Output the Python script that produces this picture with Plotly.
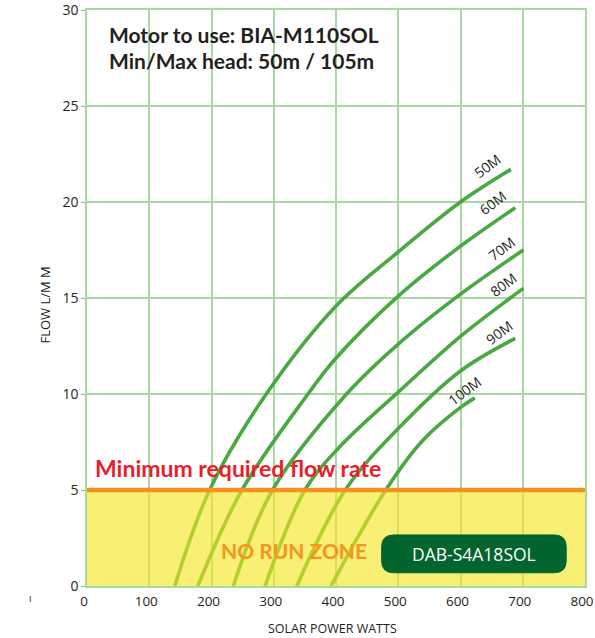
import plotly.graph_objects as go

# ---- data ----
heads = ["50M", "60M", "70M", "80M", "90M", "100M"]

watts_50 = [141, 197, 288, 399, 500, 600, 681]
flow_50 = [0, 5, 10, 14.55, 17.4, 20, 21.7]

watts_60 = [178, 249, 355, 398, 500, 600, 688]
flow_60 = [0, 5, 10, 11.8, 15.1, 17.7, 19.7]

watts_70 = [235, 298, 417, 500, 600, 701]
flow_70 = [0, 5, 10, 12.6, 15.2, 17.5]

watts_80 = [286, 350, 406, 500, 600, 680, 701]
flow_80 = [0, 5, 7.25, 10.1, 13.0, 15.0, 15.5]

watts_90 = [337, 415, 500, 600, 688]
flow_90 = [0, 5, 8.2, 11.2, 12.9]

watts_100 = [392, 480, 540, 600, 623]
flow_100 = [0, 5, 7.6, 9.3, 9.8]

# label anchor points (data coords) for each head curve
label_x = [644, 652, 666, 669, 662, 607]
label_y = [21.9, 20.0, 17.6, 15.7, 13.2, 10.2]

min_flow = 5
x_ticks = [0, 100, 200, 300, 400, 500, 600, 700, 800]
y_ticks = [0, 5, 10, 15, 20, 25, 30]

curves = [
    (watts_50, flow_50), (watts_60, flow_60), (watts_70, flow_70),
    (watts_80, flow_80), (watts_90, flow_90), (watts_100, flow_100),
]

CURVE = "#4aa842"
GRID = "#a9d8a2"
TXT = "#231f20"

fig = go.Figure()
for name, (xs, ys) in zip(heads, curves):
    fig.add_trace(go.Scatter(
        x=xs, y=ys, mode="lines", name=name,
        line=dict(color=CURVE, width=3.6, shape="spline", smoothing=1.0),
        showlegend=False, hoverinfo="skip",
    ))

# no run zone overlay (tints curves and grid below min flow)
fig.add_shape(type="rect", xref="x", yref="y", x0=0, x1=800, y0=0, y1=min_flow,
              fillcolor="rgb(245,229,30)", opacity=0.62, line_width=0, layer="above")
# minimum flow line
fig.add_shape(type="line", xref="x", yref="y", x0=0, x1=800, y0=min_flow, y1=min_flow,
              line=dict(color="#f5911e", width=4.5), layer="above")

# rounded dark green box
bx0, bx1, by0, by1 = 473.3, 769.8, 0.69, 2.66
rx, ry = 19.5, 0.62
path = (f"M {bx0+rx},{by0} L {bx1-rx},{by0} Q {bx1},{by0} {bx1},{by0+ry} "
        f"L {bx1},{by1-ry} Q {bx1},{by1} {bx1-rx},{by1} "
        f"L {bx0+rx},{by1} Q {bx0},{by1} {bx0},{by1-ry} "
        f"L {bx0},{by0+ry} Q {bx0},{by0} {bx0+rx},{by0} Z")
fig.add_shape(type="path", path=path, xref="x", yref="y",
              fillcolor="#01652d", line=dict(color="#01652d", width=1), layer="above")

ann = []
for name, lx, ly in zip(heads, label_x, label_y):
    ann.append(dict(x=lx, y=ly, xref="x", yref="y", text=name, showarrow=False,
                    textangle=-37, font=dict(family="Open Sans", size=14, color=TXT)))

ann += [
    dict(x=31.7, y=28.75, xref="x", yref="y", text="<b>Motor to use: BIA-M110SOL</b>",
         showarrow=False, xanchor="left", yanchor="middle",
         font=dict(family="Lato", size=21, color=TXT)),
    dict(x=31.7, y=27.35, xref="x", yref="y", text="<b>Min/Max head: 50m / 105m</b>",
         showarrow=False, xanchor="left", yanchor="middle",
         font=dict(family="Lato", size=21, color=TXT)),
    dict(x=9.3, y=6.15, xref="x", yref="y", text="<b>Minimum required flow rate</b>",
         showarrow=False, xanchor="left", yanchor="middle",
         font=dict(family="Lato", size=23, color="#ec1c2a")),
    dict(x=332.6, y=1.85, xref="x", yref="y", text="<b>NO RUN ZONE</b>",
         showarrow=False, xanchor="center", yanchor="middle",
         font=dict(family="Lato", size=21, color="#f7941d")),
    dict(x=621.6, y=1.67, xref="x", yref="y", text="DAB-S4A18SOL",
         showarrow=False, xanchor="center", yanchor="middle",
         font=dict(family="Open Sans", size=17.5, color="white")),
    dict(x=(333 - 87.3) / 497.7, y=-0.073, xref="paper", yref="paper",
         text="SOLAR POWER WATTS", showarrow=False, xanchor="center", yanchor="middle",
         font=dict(family="Open Sans", size=12.5, color=TXT)),
    dict(x=-0.085, y=0.488, xref="paper", yref="paper", text="FLOW L/M M",
         showarrow=False, textangle=-90, xanchor="center", yanchor="middle",
         font=dict(family="Open Sans", size=13, color=TXT)),
    dict(x=-0.121, y=-0.037, xref="paper", yref="paper", text="ı",
         showarrow=False, font=dict(family="Open Sans", size=10, color=TXT)),
]

fig.update_layout(
    width=595, height=638,
    margin=dict(l=87, r=10, t=10, b=52, autoexpand=False),
    paper_bgcolor="white", plot_bgcolor="white",
    annotations=ann,
    xaxis=dict(range=[0, 800], tickvals=x_ticks, showgrid=True, gridcolor=GRID,
               gridwidth=1.5, showline=True, mirror=True, linecolor=GRID, linewidth=1.5,
               zeroline=False, ticks="outside", ticklen=2, tickcolor="rgba(0,0,0,0)",
               ticklabeloverflow="allow", automargin=False, ticklabelshift=-3,
               tickfont=dict(family="Open Sans", size=13.5, color=TXT), fixedrange=True),
    yaxis=dict(range=[0, 30], tickvals=y_ticks, showgrid=True, gridcolor=GRID,
               gridwidth=1.5, showline=True, mirror=True, linecolor=GRID, linewidth=1.5,
               zeroline=False, ticks="outside", ticklen=4, tickcolor="#7cc576",
               ticklabeloverflow="allow", automargin=False,
               tickfont=dict(family="Open Sans", size=14, color=TXT), fixedrange=True),
)

fig.write_html("out.html", config={"displayModeBar": False},
               post_script="document.body.style.margin='0';document.body.style.overflow='hidden';")
